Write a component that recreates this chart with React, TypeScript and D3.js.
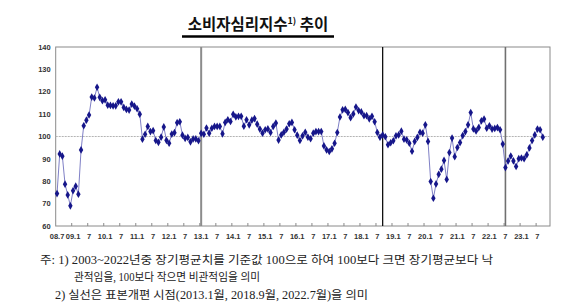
import React, { useRef, useEffect } from 'react';
import * as d3 from 'd3';

// CCSI monthly, 2008.7 ~ 2023.9 (long-term average = 100)
const ccsi2008 = [74.5, 92.2, 91.2, 78.7, 73.9, 69.0];
const ccsi2009 = [75.8, 77.8, 74.2, 94.0, 104.8, 107.3, 109.6, 117.6, 117.2, 122.0, 117.5, 116.0];
const ccsi2010 = [116.4, 114.0, 113.9, 113.7, 113.7, 115.5, 115.5, 113.0, 112.1, 111.8, 114.5, 113.6];
const ccsi2011 = [112.4, 110.0, 98.8, 101.0, 104.5, 102.2, 102.6, 98.2, 97.4, 99.7, 104.3, 98.3];
const ccsi2012 = [97.0, 101.1, 101.7, 106.2, 106.6, 100.6, 99.2, 99.6, 97.6, 98.9, 98.9, 98.1];
const ccsi2013 = [101.4, 101.0, 103.8, 101.5, 103.7, 104.5, 104.5, 104.5, 101.2, 106.3, 107.5, 106.7];
const ccsi2014 = [109.9, 108.8, 109.0, 109.0, 104.6, 107.5, 105.2, 107.3, 108.0, 105.5, 103.3, 101.5];
const ccsi2015 = [103.0, 103.4, 101.8, 104.5, 106.0, 98.4, 100.7, 101.9, 103.3, 105.7, 106.3, 103.0];
const ccsi2016 = [100.6, 98.2, 100.3, 101.9, 99.7, 99.0, 101.5, 102.2, 102.2, 102.2, 95.8, 94.0];
const ccsi2017 = [93.3, 94.5, 97.0, 101.8, 108.7, 111.9, 112.1, 110.7, 108.4, 110.1, 113.2, 111.6];
const ccsi2018 = [111.0, 109.3, 109.3, 107.9, 109.0, 106.6, 101.8, 99.7, 100.7, 99.9, 96.3, 97.2];
const ccsi2019 = [98.1, 100.3, 100.7, 102.4, 98.8, 98.5, 97.0, 93.4, 97.8, 99.6, 101.9, 101.5];
const ccsi2020 = [105.2, 97.8, 79.9, 72.4, 78.8, 83.1, 85.4, 89.3, 80.8, 92.8, 99.3, 91.0];
const ccsi2021 = [95.1, 97.3, 100.4, 102.2, 105.2, 110.7, 103.4, 102.5, 104.0, 107.0, 107.8, 103.7];
const ccsi2022 = [104.8, 103.3, 103.6, 104.0, 103.0, 96.6, 86.1, 89.1, 91.3, 89.1, 86.6, 90.1];
const ccsi2023 = [90.4, 90.1, 91.8, 94.9, 98.2, 100.7, 103.3, 103.0, 99.7];

// x tick labels, one every 6 months starting 2008.7
const xTickLabels = ['08.7', '09.1', '7', '10.1', '7', '11.1', '7', '12.1', '7', '13.1', '7', '14.1', '7',
    '15.1', '7', '16.1', '7', '17.1', '7', '18.1', '7', '19.1', '7', '20.1', '7', '21.1', '7', '22.1', '7', '23.1', '7'];
const yTicks = [60, 70, 80, 90, 100, 110, 120, 130, 140];

// sample revision months (solid vertical lines)
const revisionMonths = [[2013, 1], [2018, 9], [2022, 7]];
const START = [2008, 7];
const SLOTS = 185; // months on the axis (2008.7 ~ 2023.11)

const values = [
    ...ccsi2008, ...ccsi2009, ...ccsi2010, ...ccsi2011, ...ccsi2012, ...ccsi2013, ...ccsi2014, ...ccsi2015,
    ...ccsi2016, ...ccsi2017, ...ccsi2018, ...ccsi2019, ...ccsi2020, ...ccsi2021, ...ccsi2022, ...ccsi2023,
];

const monthIndex = ([y, m]) => (y - START[0]) * 12 + (m - START[1]);

const FOOT_FONT = '"Liberation Serif", "Noto Sans CJK KR", serif';
const AXIS_FONT = '"Liberation Sans", Arial, sans-serif';

export default function App() {
    const svgRef = useRef<SVGSVGElement>(null);
    const width = 580, height = 306;
    const margin = { top: 47, right: 30, bottom: 80, left: 56 };

    useEffect(() => {
        const svg = d3.select(svgRef.current).select('g.plot');
        svg.selectAll('*').remove();

        const x = d3.scaleLinear()
            .domain([-0.5, SLOTS - 0.3])
            .range([margin.left - 0.3, width - margin.right]);
        const y = d3.scaleLinear()
            .domain([60, 140])
            .range([height - margin.bottom, margin.top]);

        const x0 = x(-0.5), x1 = x(SLOTS - 0.3);
        const yTop = y(140), yBot = y(60);

        // frame
        svg.append('rect')
            .attr('x', x0).attr('y', yTop)
            .attr('width', x1 - x0).attr('height', yBot - yTop)
            .attr('fill', 'none').attr('stroke', '#8a8a8a').attr('stroke-width', 1);

        // reference line at 100
        svg.append('line')
            .attr('x1', x0).attr('x2', x1)
            .attr('y1', y(100)).attr('y2', y(100))
            .attr('stroke', '#b4b4b4').attr('stroke-width', 1.2)
            .attr('stroke-dasharray', '2,1');

        // y labels
        svg.append('g')
            .selectAll('text')
            .data(yTicks)
            .join('text')
            .attr('x', x0 - 5)
            .attr('y', d => y(d))
            .attr('dy', '0.35em')
            .attr('text-anchor', 'end')
            .attr('font-size', 7.5)
            .attr('font-weight', 'bold')
            .attr('font-family', AXIS_FONT)
            .attr('fill', '#333')
            .text(d => d);

        // x tick marks (between 6-month groups) and labels
        const tickIdx = d3.range(5.5, SLOTS - 1, 6);
        svg.append('g')
            .selectAll('line')
            .data(tickIdx)
            .join('line')
            .attr('x1', d => x(d)).attr('x2', d => x(d))
            .attr('y1', yBot).attr('y2', yBot - 3)
            .attr('stroke', '#8a8a8a');

        svg.append('g')
            .selectAll('text')
            .data(xTickLabels)
            .join('text')
            .attr('x', (d, i) => x(i * 6))
            .attr('y', yBot + 13)
            .attr('text-anchor', 'middle')
            .attr('font-size', 7.5)
            .attr('font-weight', 'bold')
            .attr('font-family', AXIS_FONT)
            .attr('fill', '#333')
            .text(d => d);

        // revision lines
        const revColors = ['#8c8c8c', '#111', '#707070'];
        const revWidths = [2, 1.3, 1.6];
        revisionMonths.forEach((ym, i) => {
            const xi = x(monthIndex(ym));
            svg.append('line')
                .attr('x1', xi).attr('x2', xi)
                .attr('y1', yTop).attr('y2', yBot)
                .attr('stroke', revColors[i])
                .attr('stroke-width', revWidths[i]);
        });

        // series line
        const line = d3.line<number>()
            .x((d, i) => x(i))
            .y(d => y(d));
        svg.append('path')
            .datum(values)
            .attr('fill', 'none')
            .attr('stroke', '#7f80c6')
            .attr('stroke-width', 1)
            .attr('d', line);

        // markers
        const diamond = d3.symbol().type(d3.symbolDiamond).size(17);
        svg.append('g')
            .selectAll('path')
            .data(values)
            .join('path')
            .attr('transform', (d, i) => `translate(${x(i)},${y(d)})`)
            .attr('d', diamond)
            .attr('fill', '#16168a');

        // footnotes
        const notes = [
            { x: 40, y: 264, len: 453, text: '주: 1) 2003~2022년중 장기평균치를 기준값 100으로 하여 100보다 크면 장기평균보다 낙' },
            { x: 74, y: 281, len: 186, text: '관적임을, 100보다 작으면 비관적임을 의미' },
            { x: 55, y: 299, len: 313, text: '2) 실선은 표본개편 시점(2013.1월, 2018.9월, 2022.7월)을 의미' },
        ];
        svg.append('g')
            .selectAll('text')
            .data(notes)
            .join('text')
            .attr('x', d => d.x)
            .attr('y', d => d.y)
            .attr('textLength', d => d.len)
            .attr('lengthAdjust', 'spacingAndGlyphs')
            .attr('font-size', 11.5)
            .attr('font-family', FOOT_FONT)
            .attr('fill', '#222')
            .text(d => d.text);
    }, []);

    return (
        <svg
            ref={svgRef}
            width={width}
            height={height}
            style={{ position: 'absolute', left: 0, top: 0, background: '#fff' }}
        >
            <text
                x={258}
                y={30}
                textAnchor="middle"
                fontSize={15.5}
                fontWeight="bold"
                fontFamily='"Noto Sans CJK KR", sans-serif'
                fill="#111"
            >
                <tspan>소비자심리지수</tspan>
                <tspan fontSize={9} dy={-6}>1)</tspan>
                <tspan dy={6}> 추이</tspan>
            </text>
            <path d="M182,36.5H334" stroke="#000" strokeWidth={2.5} />
            <g className="plot" />
        </svg>
    );
}
